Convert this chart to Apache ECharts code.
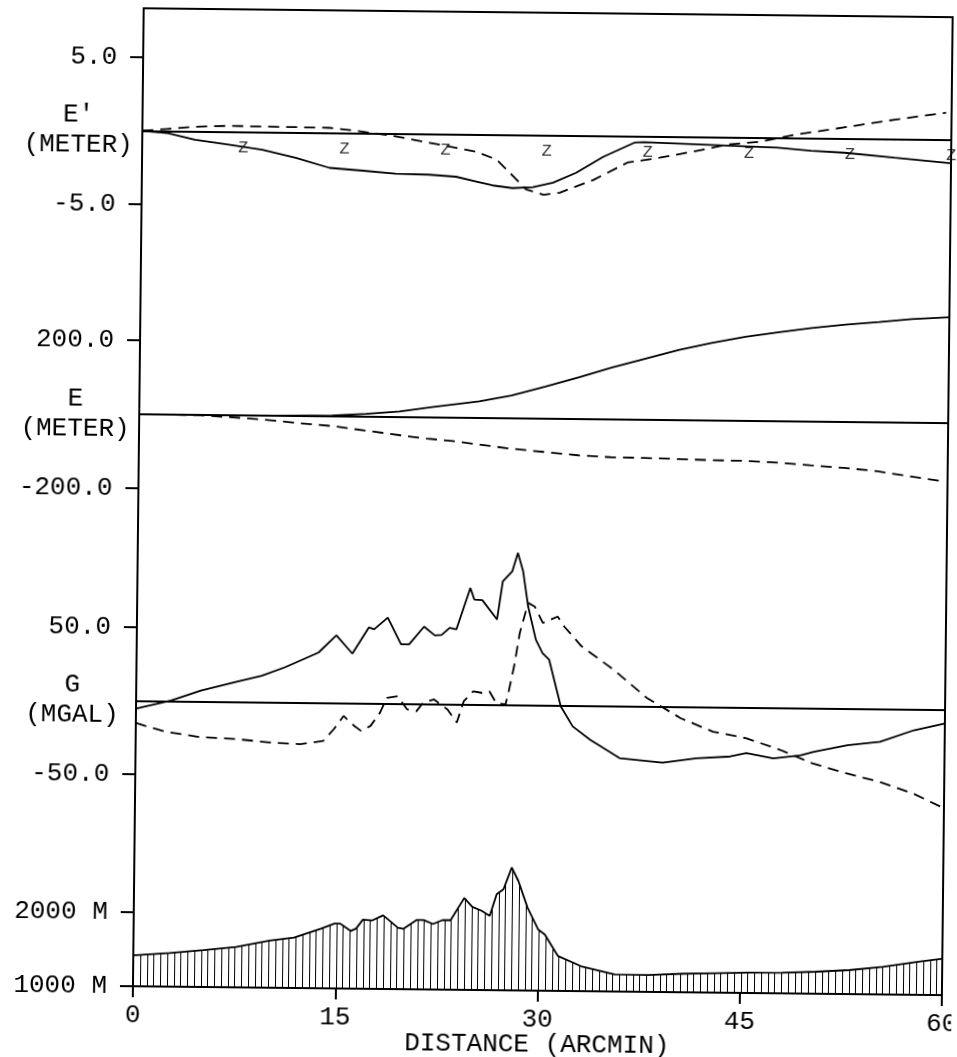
<!DOCTYPE html>
<html>
<head>
<meta charset="utf-8">
<script src="https://cdn.jsdelivr.net/npm/echarts@6/dist/echarts.min.js"></script>
<style>
  html,body{margin:0;padding:0;background:#fff}
  /* the scan is turned a little clockwise */
  #c{width:957px;height:1057px;transform:rotate(0.63deg);transform-origin:50% 50%}
</style>
</head>
<body>
<div id="c"></div>
<script>
// E' 偏差(米)
const ePrimeSolidX = [0, 1.9, 3.9, 6.4, 8.9, 11.4, 13.9, 16.4, 18.8, 21.3, 23.3, 24.8, 26, 27.5, 29, 30.5, 32.2, 34.2, 36.5, 37.2, 42.1, 47.1, 49.6, 52.1, 55.8, 60]
const ePrimeSolidY = [0, -0.14, -0.57, -0.88, -1.2, -1.72, -2.38, -2.55, -2.73, -2.77, -2.89, -3.2, -3.45, -3.62, -3.55, -3.22, -2.53, -1.43, -0.44, -0.4, -0.53, -0.67, -0.86, -0.97, -1.27, -1.6]
const ePrimeDashX = [0, 1.9, 3.9, 6.4, 10.1, 13.9, 16.4, 18.8, 21.3, 24.8, 26.3, 27.8, 28.5, 29.8, 31, 33.5, 36, 38.4, 40.9, 43.4, 45.9, 48.4, 50.9, 53.3, 55.8, 59.6]
const ePrimeDashY = [0, 0.15, 0.31, 0.4, 0.37, 0.34, 0.1, -0.2, -0.6, -1.18, -1.7, -3.05, -3.7, -4.05, -3.9, -3.0, -1.8, -1.44, -1.0, -0.5, -0.27, 0.22, 0.58, 0.95, 1.32, 1.83]
const zMarkX = [7.5, 15, 22.5, 30, 37.5, 45, 52.5, 60]
const zMarkY = [-1.1, -1.1, -1.1, -1.1, -1.1, -1.1, -1.1, -1.1]

// E(米)
const eSolidX = [0, 5, 10, 14.3, 16.8, 19.3, 21.7, 25.2, 27.6, 30.1, 32.6, 35, 37.5, 40, 42.4, 44.9, 47.4, 49.8, 52.3, 54.8, 57.2, 60]
const eSolidY = [0, 0, 0, 2, 8, 15, 28, 45, 62, 87, 113, 140, 165, 190, 210, 227, 241, 253, 263, 271, 280, 286]
const eDashX = [0, 4.5, 7.6, 10, 11.4, 14.6, 15.8, 18.3, 19.8, 21.3, 23.3, 24.8, 27.6, 30.1, 32.6, 35, 37.5, 40, 42.4, 44.9, 47.4, 49.8, 52.3, 54.8, 57.2, 59.4]
const eDashY = [0, -1, -7, -13, -18, -27, -33, -44, -51, -57, -63, -70, -82, -90, -98, -102, -103, -105, -107, -108, -112, -118, -124, -132, -145, -156]

// G(毫伽)
const gSolidX = [0, 2.6, 4.8, 7.3, 9.3, 11, 13.5, 14.8, 16, 17.2, 17.6, 18.6, 19.6, 20.2, 21.3, 22.1, 22.6, 23.2, 23.7, 24.7, 25, 25.6, 26.7, 27.1, 27.8, 28.2, 28.6, 29, 29.6, 30.1, 30.6, 31.5, 32.4, 33.7, 35.9, 39.1, 41.6, 44.1, 45.3, 47.3, 49.3, 50.3, 52.8, 55.2, 57.7, 60]
const gSolidY = [-5.4, 0.4, 7.4, 13.3, 18, 23.8, 34.2, 46, 33.7, 51.6, 50.4, 58.4, 40.4, 40.4, 52.6, 46.7, 47, 52, 51, 79.3, 71.4, 71, 58, 84, 91, 103.4, 91, 67, 44.5, 35.5, 31, -0.7, -14.2, -23.1, -35.4, -38.2, -34.9, -33.5, -31, -34.4, -32.2, -29.7, -24.9, -22.4, -14.3, -9.5]
const gDashX = [0, 0.6, 2.3, 4.8, 7.3, 9.8, 12.2, 13.9, 14.7, 15.4, 16.2, 16.7, 17.4, 18.1, 18.6, 19.4, 20.1, 20.8, 21.3, 22.1, 23.1, 23.8, 24.3, 25, 25.6, 26.2, 26.7, 27.4, 27.6, 28, 28.4, 29, 29.5, 30.1, 31.2, 31.7, 33, 35.4, 37.9, 40.4, 42.8, 45.3, 47.8, 50.2, 52.7, 55.2, 57.7, 59.8]
const gDashY = [-15, -16.8, -21, -24.3, -25.2, -27.3, -28.3, -26, -17.7, -8.8, -15.5, -18.8, -15.4, -6.2, 3.9, 5, -3.8, -5, 0.9, 3.1, -3.6, -12.4, 2.1, 9, 8, 9, 1.3, 0.2, 8, 26, 49, 69.5, 67, 56, 60.4, 53.6, 40.3, 24.6, 5.6, -7.8, -16.7, -21, -28.6, -37.5, -44, -49.6, -57.3, -66.3]

// 地形高度(米)
const hX = [0, 2.7, 5.2, 7.6, 10.1, 11.9, 13.9, 14.9, 15.3, 16.1, 16.5, 17, 17.7, 18.5, 19.6, 20, 21, 21.5, 22.2, 22.9, 23.5, 24.5, 25.1, 25.8, 26.4, 26.9, 27.4, 28, 28.5, 29.2, 30, 30.5, 31.5, 33.2, 35.7, 38.2, 40.7, 43.1, 45.6, 48.1, 50.6, 53.1, 55.6, 58.1, 60]
const hY = [1418, 1455, 1497, 1545, 1635, 1680, 1806, 1876, 1876, 1778, 1812, 1933, 1924, 1994, 1828, 1815, 1937, 1937, 1884, 1938, 1938, 2240, 2123, 2070, 2003, 2297, 2364, 2658, 2478, 2119, 1828, 1760, 1470, 1337, 1230, 1228, 1250, 1262, 1275, 1279, 1297, 1324, 1373, 1444, 1491]

const FONT = 'Liberation Mono'
const INK = '#000'
const zip = (xs, ys) => xs.map((x, i) => [x, ys[i]])

// 竖线阴影(地形填充)
function hatch(){
  const c = document.createElement('canvas')
  c.width = 27; c.height = 8
  const g = c.getContext('2d')
  g.fillStyle = INK
  ;[3, 10, 17, 23].forEach(x => g.fillRect(x, 0, 1, 8))
  return { image: c, repeat: 'repeat' }
}

// 四个面板上下相接:top / height 像素,纵轴范围
const panels = [
  { top: 12,  height: 245, min: -8.33, max: 8.33 },
  { top: 257, height: 322, min: -435,  max: 435 },
  { top: 579, height: 251, min: -85.4, max: 85.4 },
  { top: 830, height: 160, min: 1000,  max: 3160 },
]
const yTicks = [[-5, 5], [-200, 200], [-50, 50], [1000, 2000]]
const yNames = ["E'\n(METER)", 'E\n(METER)', 'G\n(MGAL)', '']
const yFmt = [v => v.toFixed(1), v => v.toFixed(1), v => v.toFixed(1), v => v + ' M']

const axisLine = { show: true, onZero: true, lineStyle: { color: INK, width: 2 } }
const txt = { fontFamily: FONT, fontSize: 26, color: INK }

const box = { left: 138, right: 10, outerBoundsMode: 'none', containLabel: false }
const grids = panels.map(p => Object.assign({ top: p.top, height: p.height, show: false }, box))
grids.push(Object.assign({ top: 12, height: 978, show: true, borderColor: INK, borderWidth: 2, backgroundColor: 'transparent' }, box))

const xAxes = panels.map((p, i) => {
  const last = i === 3
  return {
    type: 'value', gridIndex: i, min: 0, max: 60, interval: 15,
    axisLine,
    axisTick: { show: last, length: 11, lineStyle: { color: INK, width: 2 } },
    axisLabel: Object.assign({ show: last, margin: 16 }, txt),
    splitLine: { show: false },
    name: last ? 'DISTANCE (ARCMIN)' : '', nameLocation: 'middle', nameGap: 41, nameMoveOverlap: false,
    nameTextStyle: txt
  }
})
xAxes.push({ type: 'value', gridIndex: 4, min: 0, max: 60, show: false })

const yAxes = panels.map((p, i) => ({
  type: 'value', gridIndex: i, min: p.min, max: p.max,
  axisLine,
  axisTick: { show: true, length: 13, customValues: yTicks[i], lineStyle: { color: INK, width: 2 } },
  axisLabel: Object.assign({ customValues: yTicks[i], formatter: yFmt[i], margin: 26 }, txt),
  splitLine: { show: false },
  name: yNames[i], nameLocation: 'middle', nameRotate: 0, nameGap: 64, nameMoveOverlap: false,
  nameTextStyle: Object.assign({ align: 'center', verticalAlign: 'middle', lineHeight: 30 }, txt)
}))
yAxes.push({ type: 'value', gridIndex: 4, min: 0, max: 1, show: false })

function curve(i, xs, ys, dashed){
  return {
    type: 'line', xAxisIndex: i, yAxisIndex: i, data: zip(xs, ys),
    showSymbol: false, symbol: 'none', silent: true, clip: false,
    lineStyle: { color: INK, width: 1.8, type: dashed ? [11, 7] : 'solid' }
  }
}

const chart = echarts.init(document.getElementById('c'), null, { renderer: 'canvas' })
chart.setOption({
  animation: false,
  backgroundColor: '#fff',
  grid: grids,
  xAxis: xAxes,
  yAxis: yAxes,
  series: [
    curve(0, ePrimeSolidX, ePrimeSolidY, false),
    curve(0, ePrimeDashX, ePrimeDashY, true),
    {
      type: 'scatter', xAxisIndex: 0, yAxisIndex: 0, data: zip(zMarkX, zMarkY),
      symbol: 'rect', symbolSize: 1, itemStyle: { color: 'transparent' }, silent: true, clip: false,
      label: { show: true, position: 'inside', formatter: 'Z', fontFamily: FONT, fontSize: 17, color: INK }
    },
    curve(1, eSolidX, eSolidY, false),
    curve(1, eDashX, eDashY, true),
    curve(2, gSolidX, gSolidY, false),
    curve(2, gDashX, gDashY, true),
    Object.assign(curve(3, hX, hY, false), { areaStyle: { color: hatch(), opacity: 1 } }),
  ]
})
</script>
</body>
</html>
